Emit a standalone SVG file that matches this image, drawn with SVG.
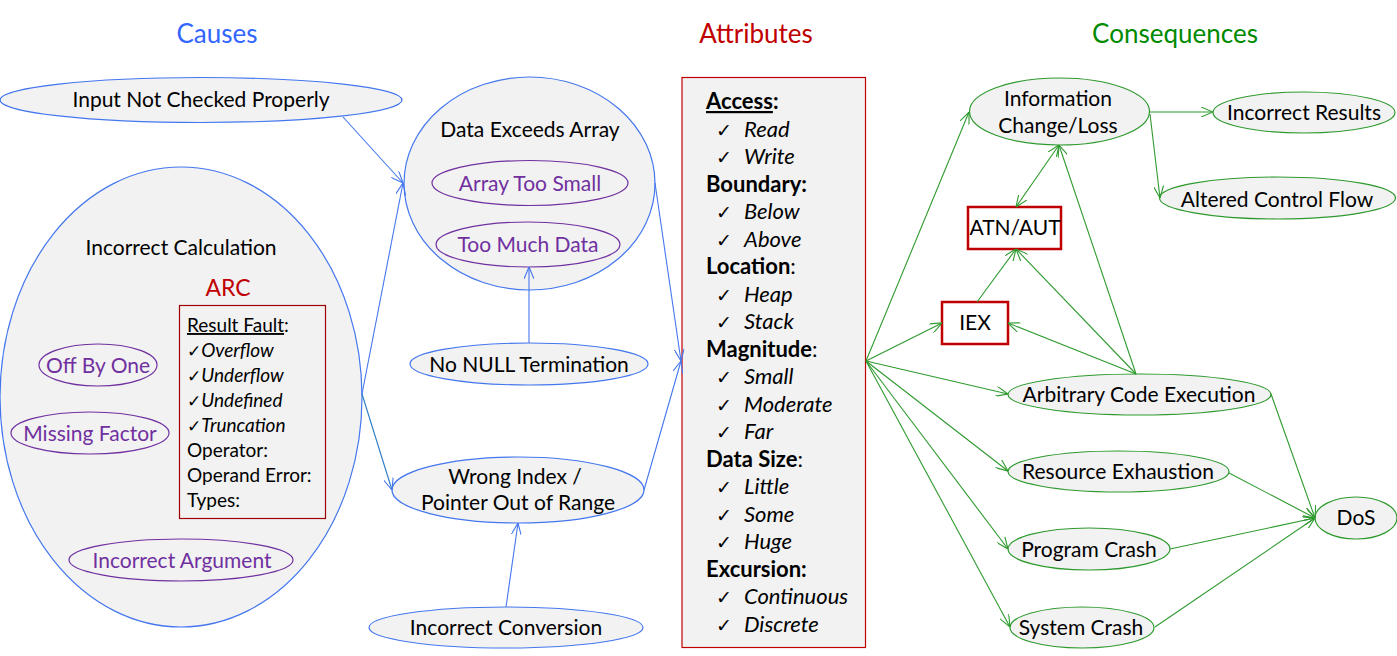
<svg xmlns="http://www.w3.org/2000/svg" width="1397" height="656" viewBox="0 0 1397 656">
<style>
text{font-family:Lato,"Liberation Sans",sans-serif;font-size:21px;fill:#000;text-anchor:middle}
.title{font-size:26px}
.cause{fill:#F2F2F2;stroke:#4477EE;stroke-width:1.2}
.sub{fill:#F2F2F2;stroke:#7030A0;stroke-width:1.2}
.subt{fill:#7030A0}
.cons{fill:#F2F2F2;stroke:#2E9A2E;stroke-width:1.2}
.redbox{fill:#F2F2F2;stroke:#C00000;stroke-width:1.2}
.redbox2{fill:#FFFFFF;stroke:#C00000;stroke-width:2.5}
.bl{stroke:#4477EE;stroke-width:1.1;fill:none;marker-end:url(#ab)}
.gl{stroke:#2E9A2E;stroke-width:1.1;fill:none;marker-end:url(#ag)}
.attr text{text-anchor:start;font-size:22px}
.attr .h{font-weight:bold}
.attr .i{font-style:italic}
.attr .ck{font-size:19px}
.ck{font-family:"DejaVu Sans",sans-serif;font-size:17px;font-style:normal;font-weight:normal}
.arc text{text-anchor:start;font-size:19px}
</style>
<defs>
<marker id="ab" viewBox="0 0 12 10" refX="12" refY="5" markerWidth="12" markerHeight="10" orient="auto-start-reverse" markerUnits="userSpaceOnUse"><path d="M0,0 L12,5 L0,10" fill="none" stroke="#4477EE" stroke-width="1.1"/></marker>
<marker id="ag" viewBox="0 0 12 10" refX="12" refY="5" markerWidth="12" markerHeight="10" orient="auto-start-reverse" markerUnits="userSpaceOnUse"><path d="M0,0 L12,5 L0,10" fill="none" stroke="#2E9A2E" stroke-width="1.1"/></marker>
</defs>
<rect width="1397" height="656" fill="#FFFFFF"/>

<g id="titles">
<text class="title" x="217" y="43" style="fill:#3366FF">Causes</text>
<text class="title" x="756" y="43" style="fill:#C00000">Attributes</text>
<text class="title" x="1175" y="43" style="fill:#008A00">Consequences</text>
</g>

<g id="incorrect-calculation">
<ellipse class="cause" cx="181" cy="397" rx="181" ry="230"/>
<text x="181" y="255">Incorrect Calculation</text>
<text x="228" y="296" style="fill:#C00000;font-size:23px">ARC</text>
<g class="arc">
<rect x="179.5" y="305.5" width="146" height="213" fill="#F2F2F2" stroke="#A00000" stroke-width="1.2"/>
<text x="187" y="332"><tspan text-decoration="underline">Result Fault</tspan>:</text>
<text x="187" y="357"><tspan class="ck">✓</tspan><tspan font-style="italic">Overflow</tspan></text>
<text x="187" y="382"><tspan class="ck">✓</tspan><tspan font-style="italic">Underflow</tspan></text>
<text x="187" y="407"><tspan class="ck">✓</tspan><tspan font-style="italic">Undefined</tspan></text>
<text x="187" y="432"><tspan class="ck">✓</tspan><tspan font-style="italic">Truncation</tspan></text>
<text x="187" y="457">Operator:</text>
<text x="187" y="482">Operand Error:</text>
<text x="187" y="507">Types:</text>
</g>
</g>
<g id="off-by-one"><ellipse class="sub" cx="98" cy="365" rx="59" ry="21"/><text class="subt" x="98" y="373">Off By One</text></g>
<g id="missing-factor"><ellipse class="sub" cx="90" cy="433" rx="79" ry="21"/><text class="subt" x="90" y="441">Missing Factor</text></g>
<g id="incorrect-argument"><ellipse class="sub" cx="181" cy="560" rx="112" ry="21"/><text class="subt" x="182" y="568">Incorrect Argument</text></g>

<g id="input-not-checked"><ellipse class="cause" cx="201" cy="100" rx="201" ry="22.5"/><text x="201" y="107">Input Not Checked Properly</text></g>

<g id="data-exceeds-array">
<ellipse class="cause" cx="529.5" cy="183.5" rx="125.5" ry="106.5"/>
<text x="530" y="137">Data Exceeds Array</text>
</g>
<g id="array-too-small"><ellipse class="sub" cx="530" cy="183" rx="98" ry="22.5"/><text class="subt" x="530" y="191">Array Too Small</text></g>
<g id="too-much-data"><ellipse class="sub" cx="528" cy="244.5" rx="92" ry="22.5"/><text class="subt" x="528" y="252">Too Much Data</text></g>
<g id="no-null"><ellipse class="cause" cx="529" cy="364" rx="119" ry="21"/><text x="529" y="372">No NULL Termination</text></g>
<g id="wrong-index"><ellipse class="cause" cx="518" cy="490" rx="126" ry="33"/><text x="515" y="484">Wrong Index /</text><text x="518" y="510">Pointer Out of Range</text></g>
<g id="incorrect-conversion"><ellipse class="cause" cx="506" cy="627.5" rx="137" ry="20.5"/><text x="506" y="635">Incorrect Conversion</text></g>

<g id="attributes" class="attr">
<rect class="redbox" x="682" y="77.5" width="183.5" height="570"/>
<text x="706" y="109" class="h"><tspan text-decoration="underline">Access</tspan>:</text>
<text x="716" y="136.5"><tspan class="ck">✓</tspan><tspan x="744" class="i">Read</tspan></text>
<text x="716" y="164"><tspan class="ck">✓</tspan><tspan x="744" class="i">Write</tspan></text>
<text x="706" y="191.5" class="h">Boundary:</text>
<text x="716" y="219"><tspan class="ck">✓</tspan><tspan x="744" class="i">Below</tspan></text>
<text x="716" y="246.5"><tspan class="ck">✓</tspan><tspan x="744" class="i">Above</tspan></text>
<text x="706" y="274"><tspan class="h">Location</tspan>:</text>
<text x="716" y="301.5"><tspan class="ck">✓</tspan><tspan x="744" class="i">Heap</tspan></text>
<text x="716" y="329"><tspan class="ck">✓</tspan><tspan x="744" class="i">Stack</tspan></text>
<text x="706" y="356.5"><tspan class="h">Magnitude</tspan>:</text>
<text x="716" y="384"><tspan class="ck">✓</tspan><tspan x="744" class="i">Small</tspan></text>
<text x="716" y="411.5"><tspan class="ck">✓</tspan><tspan x="744" class="i">Moderate</tspan></text>
<text x="716" y="439"><tspan class="ck">✓</tspan><tspan x="744" class="i">Far</tspan></text>
<text x="706" y="466.5"><tspan class="h">Data Size</tspan>:</text>
<text x="716" y="494"><tspan class="ck">✓</tspan><tspan x="744" class="i">Little</tspan></text>
<text x="716" y="521.5"><tspan class="ck">✓</tspan><tspan x="744" class="i">Some</tspan></text>
<text x="716" y="549"><tspan class="ck">✓</tspan><tspan x="744" class="i">Huge</tspan></text>
<text x="706" y="576.5" class="h">Excursion:</text>
<text x="716" y="604"><tspan class="ck">✓</tspan><tspan x="744" class="i">Continuous</tspan></text>
<text x="716" y="631.5"><tspan class="ck">✓</tspan><tspan x="744" class="i">Discrete</tspan></text>
</g>

<g id="info-change"><ellipse class="cons" cx="1059.5" cy="111.5" rx="90" ry="33.5"/><text x="1058" y="106">Information</text><text x="1058" y="133">Change/Loss</text></g>
<g id="incorrect-results"><ellipse class="cons" cx="1304" cy="112.5" rx="91" ry="20.5"/><text x="1304" y="120">Incorrect Results</text></g>
<g id="altered-control-flow"><ellipse class="cons" cx="1277.5" cy="198" rx="118" ry="21"/><text x="1277" y="207">Altered Control Flow</text></g>
<g id="atn-aut"><rect class="redbox2" x="968" y="207" width="93" height="42"/><text x="1015" y="235">ATN/AUT</text></g>
<g id="iex"><rect class="redbox2" x="942" y="302" width="66" height="42"/><text x="975" y="330">IEX</text></g>
<g id="ace"><ellipse class="cons" cx="1139.5" cy="394.5" rx="131.5" ry="20.5"/><text x="1139" y="402">Arbitrary Code Execution</text></g>
<g id="resource-exhaustion"><ellipse class="cons" cx="1118.5" cy="471.5" rx="110.5" ry="20.5"/><text x="1118" y="479">Resource Exhaustion</text></g>
<g id="program-crash"><ellipse class="cons" cx="1089" cy="549" rx="81" ry="21"/><text x="1089" y="557">Program Crash</text></g>
<g id="system-crash"><ellipse class="cons" cx="1082" cy="627.5" rx="72" ry="20.5"/><text x="1081" y="635">System Crash</text></g>
<g id="dos"><ellipse class="cons" cx="1356" cy="518" rx="41" ry="21"/><text x="1356" y="525">DoS</text></g>

<g id="connectors">
<line class="bl" x1="343" y1="117" x2="403" y2="183"/>
<line class="bl" x1="362" y1="394" x2="403" y2="183"/>
<line class="bl" x1="362" y1="394" x2="392" y2="490" style="stroke:#2E7EC8"/>
<line class="bl" x1="655" y1="183" x2="681" y2="361"/>
<line class="bl" x1="644" y1="490" x2="681" y2="361"/>
<line class="bl" x1="529" y1="343" x2="529" y2="267"/>
<line class="bl" x1="506" y1="607" x2="518" y2="523"/>

<line class="gl" x1="866" y1="361" x2="969" y2="112"/>
<line class="gl" x1="866" y1="361" x2="942" y2="323"/>
<line class="gl" x1="866" y1="361" x2="1008" y2="394"/>
<line class="gl" x1="866" y1="361" x2="1008" y2="471"/>
<line class="gl" x1="866" y1="361" x2="1008" y2="549"/>
<line class="gl" x1="866" y1="361" x2="1010" y2="627"/>
<line class="gl" x1="977" y1="302" x2="1016" y2="249"/>
<line class="gl" x1="1136" y1="374" x2="1016" y2="249"/>
<line class="gl" x1="1136" y1="374" x2="1008" y2="323"/>
<line class="gl" x1="1136" y1="374" x2="1059" y2="145"/>
<line class="gl" x1="1016" y1="207" x2="1059" y2="145" style="marker-start:url(#ag)"/>
<line class="gl" x1="1150" y1="112" x2="1213" y2="112"/>
<line class="gl" x1="1150" y1="114" x2="1160" y2="198"/>
<line class="gl" x1="1271" y1="394" x2="1315" y2="518"/>
<line class="gl" x1="1229" y1="473" x2="1315" y2="518"/>
<line class="gl" x1="1170" y1="549" x2="1315" y2="518"/>
<line class="gl" x1="1155" y1="627" x2="1315" y2="518"/>
</g>
</svg>
